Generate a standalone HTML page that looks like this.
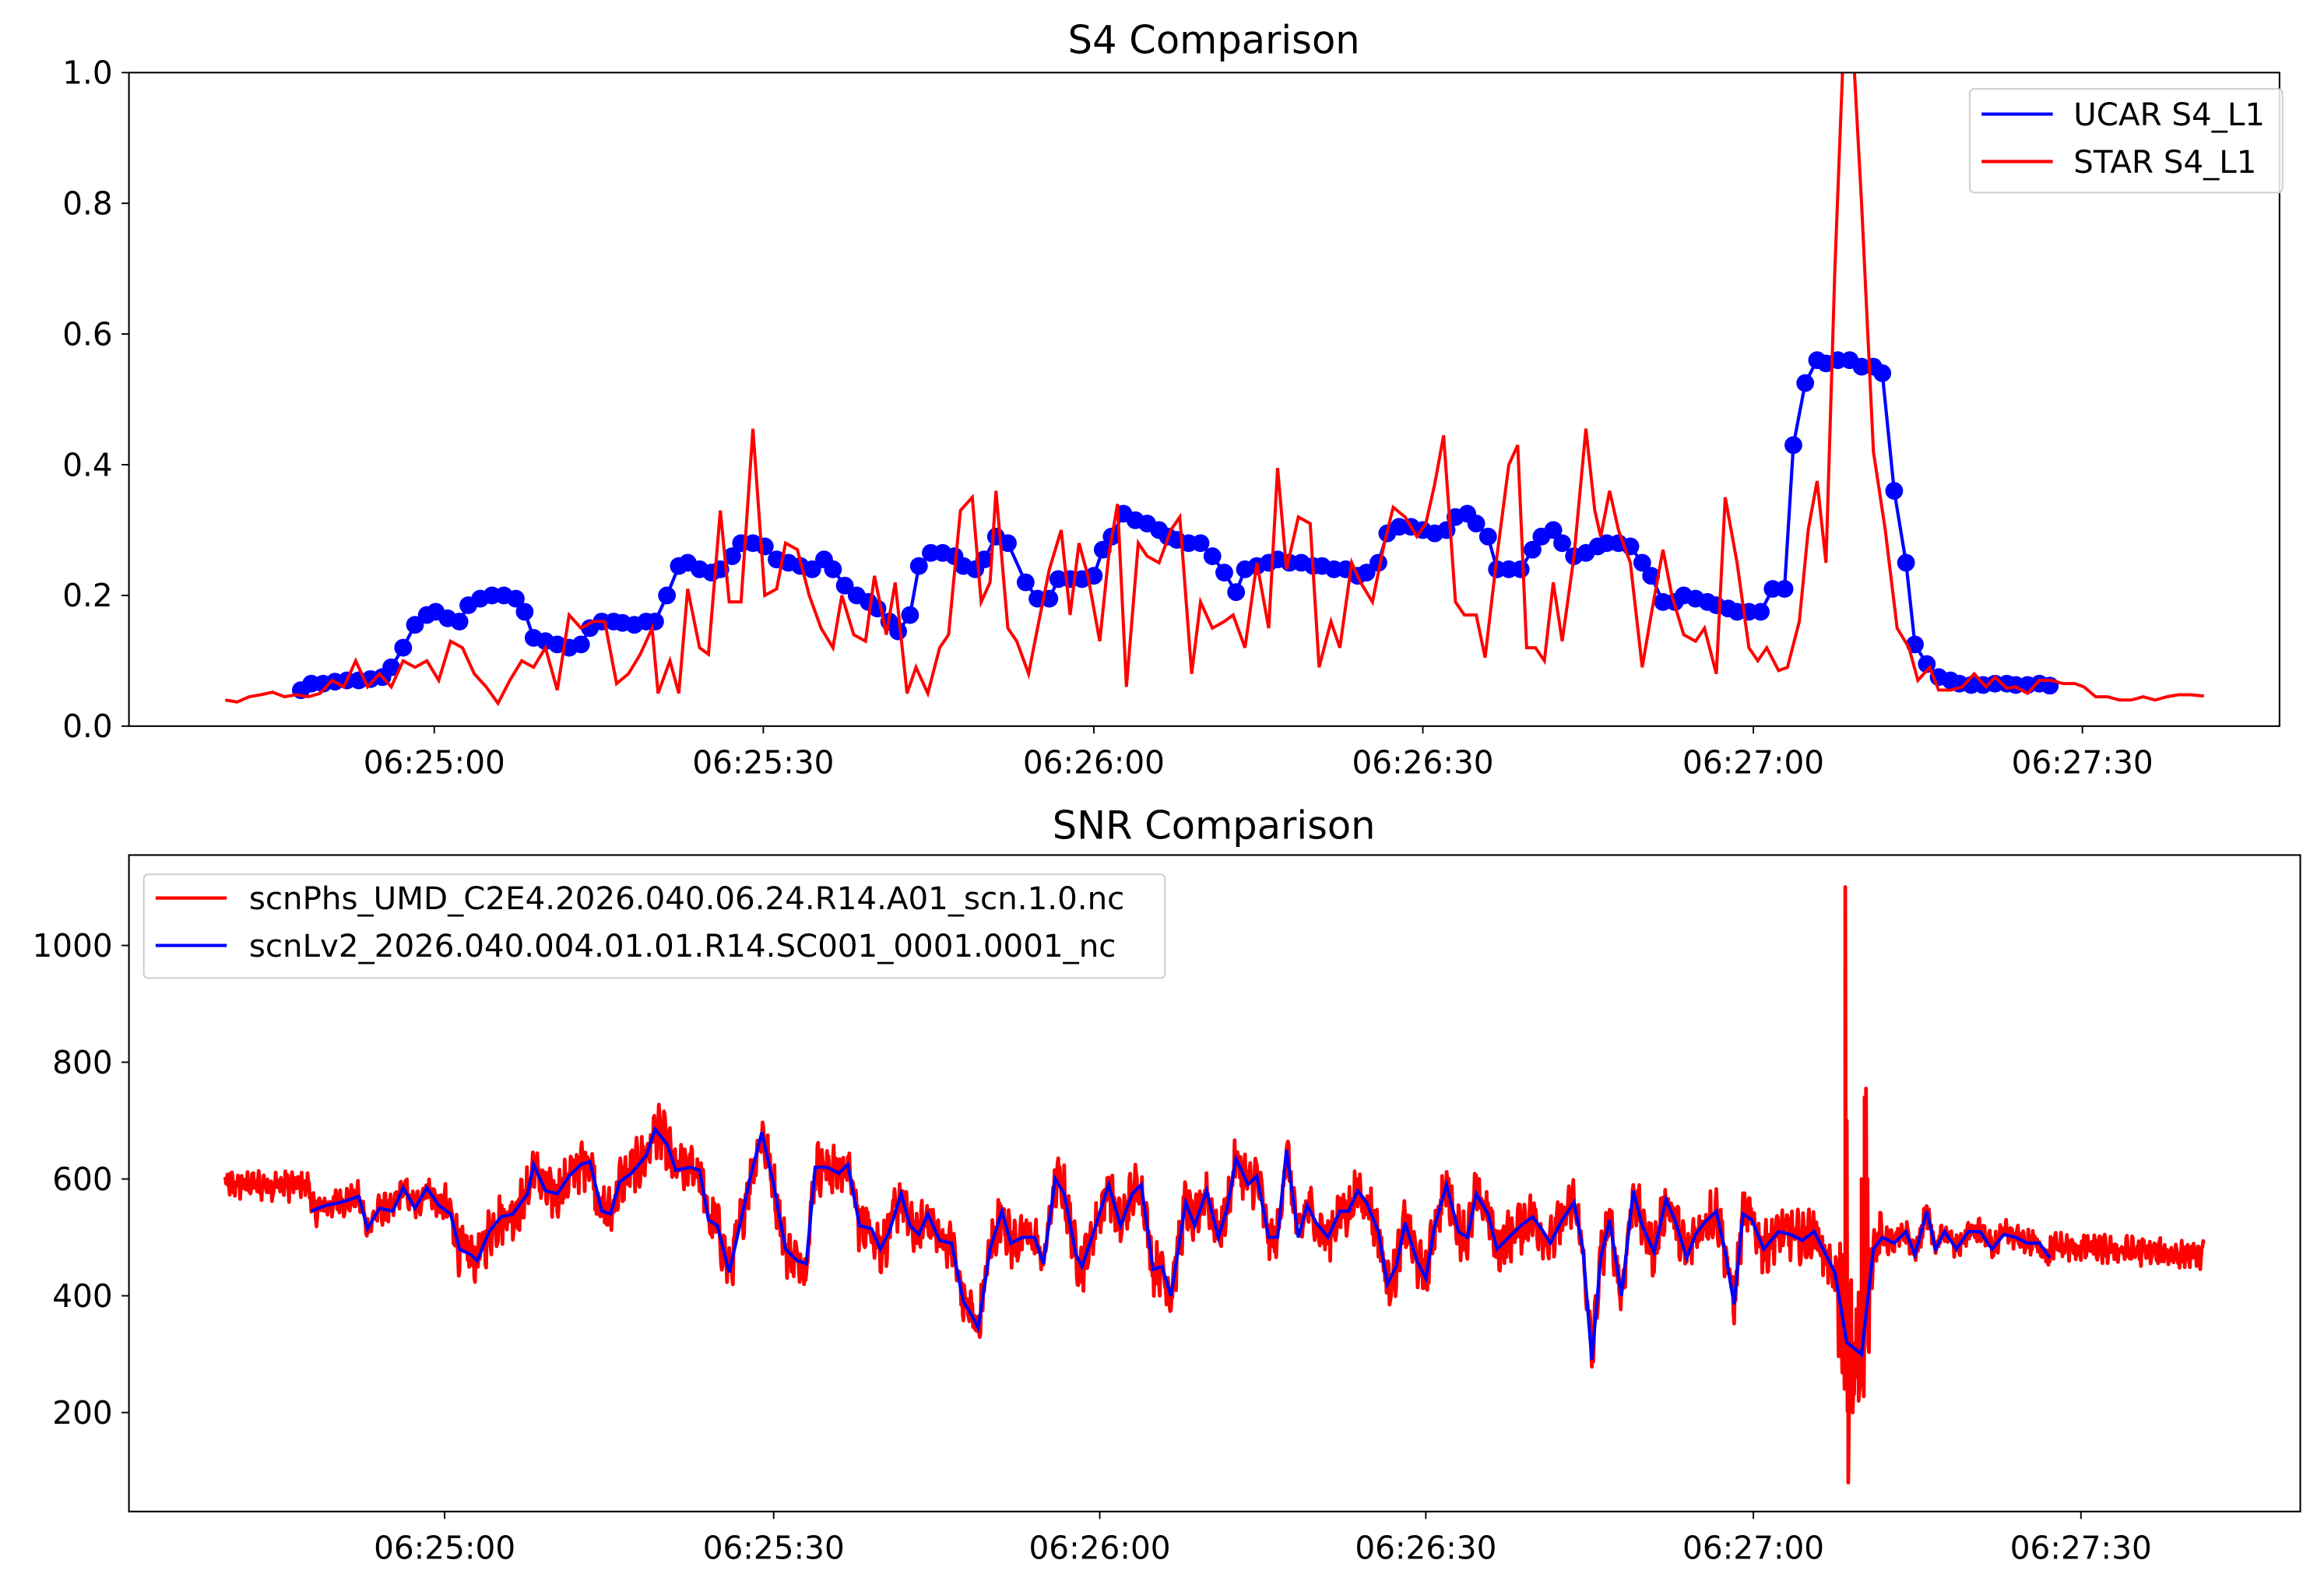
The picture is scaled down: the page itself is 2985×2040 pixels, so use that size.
<!DOCTYPE html>
<html><head><meta charset="utf-8"><style>html,body{margin:0;padding:0;background:#fff}svg{display:block}text{font-family:"DejaVu Sans","Liberation Sans",sans-serif;fill:#000}</style></head>
<body>
<svg id="s" xmlns="http://www.w3.org/2000/svg" width="2985" height="2040" viewBox="0 0 1568 1071.6">
<rect width="1568" height="1072" fill="#fff"/>
<defs>
<clipPath id="c1"><rect x="87" y="49" width="1451" height="441"/></clipPath>
<clipPath id="c2"><rect x="87" y="577" width="1465" height="443"/></clipPath>
</defs>
<text x="819" y="36" font-size="26" text-anchor="middle">S4 Comparison</text>
<text x="819" y="566" font-size="26" text-anchor="middle">SNR Comparison</text>
<g id="gtop" clip-path="url(#c1)"></g>
<g id="gbot" clip-path="url(#c2)"></g>
<rect x="87" y="49" width="1451" height="441" fill="none" stroke="#000" stroke-width="1.1"/>
<rect x="87" y="577" width="1465" height="443" fill="none" stroke="#000" stroke-width="1.1"/>
<g id="ticks" font-size="21.3"></g>
<g>
<rect x="1329" y="60" width="211" height="70" rx="3" fill="#fff" fill-opacity="0.85" stroke="#ccc" stroke-width="1"/>
<line x1="1337" y1="77" x2="1385" y2="77" stroke="#00f" stroke-width="2.2"/>
<line x1="1337" y1="109" x2="1385" y2="109" stroke="#f00" stroke-width="2.2"/>
<text x="1399" y="84.5" font-size="21.2">UCAR S4_L1</text>
<text x="1399" y="116.5" font-size="21.2">STAR S4_L1</text>
<rect x="97" y="590" width="689" height="70" rx="3" fill="#fff" fill-opacity="0.85" stroke="#ccc" stroke-width="1"/>
<line x1="105" y1="606" x2="153" y2="606" stroke="#f00" stroke-width="2.2"/>
<line x1="105" y1="638" x2="153" y2="638" stroke="#00f" stroke-width="2.2"/>
<text x="168" y="613.5" font-size="21.2">scnPhs_UMD_C2E4.2026.040.06.24.R14.A01_scn.1.0.nc</text>
<text x="168" y="645.5" font-size="21.2">scnLv2_2026.040.004.01.01.R14.SC001_0001.0001_nc</text>
</g>
</svg>
<script>
(function(){
var NS="http://www.w3.org/2000/svg";
function el(p,t,a){var e=document.createElementNS(NS,t);for(var k in a)e.setAttribute(k,a[k]);p.appendChild(e);return e;}
function pairs(a){var r=[];for(var i=0;i<a.length;i+=2)r.push([a[i],a[i+1]]);return r;}
var ty=function(v){return 490-v*441;};
var by=function(v){return 1032-v*0.394;};
var red1=pairs([152,.04,160,.037,168,.045,176,.048,184,.052,192,.045,200,.048,208,.045,216,.05,224,.07,232,.06,240,.1,248,.06,256,.08,264,.06,272,.1,280,.09,288,.1,296,.07,304,.13,312,.12,320,.08,328,.06,336,.035,344,.07,352,.1,360,.09,368,.12,376,.055,384,.17,392,.15,400,.16,408,.16,416,.065,424,.08,432,.11,440,.15,444,.05,452,.1,458,.05,464,.21,472,.12,478,.11,486,.33,492,.19,500,.19,508,.455,516,.2,524,.21,530,.28,538,.27,546,.2,554,.15,562,.12,568,.2,576,.14,584,.13,590,.23,598,.14,604,.22,612,.05,618,.09,626,.05,634,.12,640,.14,648,.33,656,.35,662,.19,668,.22,672,.36,680,.15,686,.13,694,.08,700,.15,708,.24,716,.3,722,.17,728,.28,734,.23,742,.13,748,.26,754,.34,760,.06,768,.28,774,.26,782,.25,790,.3,796,.32,804,.08,810,.19,818,.15,826,.16,832,.17,840,.12,848,.25,856,.15,862,.395,868,.24,876,.32,884,.31,890,.09,898,.16,904,.12,912,.25,918,.22,926,.19,934,.28,940,.335,948,.32,956,.29,962,.31,968,.37,974,.445,982,.19,988,.17,996,.17,1002,.105,1010,.26,1018,.4,1024,.43,1030,.12,1036,.12,1042,.1,1048,.22,1054,.13,1062,.26,1070,.455,1076,.33,1080,.29,1086,.36,1092,.3,1100,.25,1108,.09,1114,.17,1122,.27,1128,.2,1136,.14,1144,.13,1150,.15,1158,.08,1164,.35,1172,.25,1180,.12,1186,.1,1192,.12,1200,.085,1206,.09,1214,.16,1220,.3,1226,.375,1232,.25,1238,.7,1244,1.05,1250,1.05,1256,.8,1264,.42,1272,.3,1280,.15,1288,.12,1294,.07,1302,.09,1308,.055,1316,.055,1324,.06,1332,.08,1340,.06,1346,.075,1354,.058,1360,.06,1368,.05,1376,.07,1384,.07,1392,.065,1400,.065,1406,.06,1414,.045,1422,.045,1430,.04,1438,.04,1446,.045,1454,.04,1462,.045,1470,.048,1478,.048,1487,.046]);
var blue1=pairs([203,.055,210,.065,218,.065,226,.068,234,.07,242,.07,250,.072,258,.075,264,.09,272,.12,280,.155,288,.17,294,.175,302,.165,310,.16,316,.185,324,.195,332,.2,340,.2,348,.195,354,.175,360,.135,368,.13,376,.125,384,.12,392,.125,398,.15,406,.16,414,.16,420,.158,428,.155,436,.16,442,.16,450,.2,458,.245,464,.25,472,.24,480,.235,486,.24,494,.26,500,.28,508,.28,516,.275,524,.255,532,.25,540,.245,548,.24,556,.255,562,.24,570,.215,578,.2,586,.19,592,.18,600,.16,606,.145,614,.17,620,.245,628,.265,636,.265,644,.26,650,.245,658,.24,664,.255,672,.29,680,.28,692,.22,700,.195,708,.195,714,.225,722,.225,730,.225,738,.23,744,.27,750,.29,758,.325,766,.315,774,.31,782,.3,788,.29,794,.285,802,.28,810,.28,818,.26,826,.235,834,.205,840,.24,848,.245,856,.25,862,.255,870,.25,878,.25,886,.245,892,.245,900,.24,908,.24,916,.23,922,.235,930,.25,936,.295,944,.305,952,.305,960,.3,968,.295,976,.3,982,.32,990,.325,996,.31,1004,.29,1010,.24,1018,.24,1026,.24,1034,.27,1040,.29,1048,.3,1054,.28,1062,.26,1070,.265,1078,.275,1084,.28,1092,.28,1100,.275,1108,.25,1114,.23,1122,.19,1130,.19,1136,.2,1144,.195,1152,.19,1158,.185,1166,.18,1172,.175,1180,.175,1188,.175,1196,.21,1204,.21,1210,.43,1218,.525,1226,.56,1232,.555,1240,.56,1248,.56,1256,.55,1264,.55,1270,.54,1278,.36,1286,.25,1292,.125,1300,.095,1308,.075,1316,.07,1322,.065,1330,.063,1338,.063,1346,.065,1354,.065,1360,.063,1368,.063,1376,.065,1383,.062]);
var blue2=pairs([210,545,220,555,230,560,242,570,248,515,256,550,265,545,272,585,280,550,288,585,296,555,304,540,310,480,318,470,322,460,330,510,338,535,346,540,356,575,360,625,368,580,376,575,384,605,392,625,398,630,406,545,412,540,418,595,426,610,436,640,442,685,450,660,456,615,466,620,472,615,478,530,484,520,492,440,500,530,506,600,514,680,522,590,530,480,538,460,544,455,550,620,558,620,566,610,572,625,580,520,588,515,594,480,600,510,608,575,614,520,620,505,626,540,634,495,642,490,650,390,656,365,660,345,668,480,676,545,682,490,690,500,698,500,704,455,712,600,718,575,726,470,730,450,738,510,748,590,756,520,764,575,770,590,778,445,784,450,790,400,800,560,806,520,814,580,822,500,828,550,834,635,842,590,848,605,856,500,862,500,868,650,876,500,882,555,888,525,896,500,904,545,910,545,916,580,922,560,930,510,936,420,942,450,948,525,956,460,962,430,968,520,976,590,984,510,990,500,996,575,1004,540,1010,480,1018,500,1026,520,1034,535,1040,515,1046,490,1054,530,1062,560,1068,480,1074,290,1080,465,1086,530,1094,400,1102,580,1108,520,1116,475,1124,565,1130,530,1138,465,1144,505,1150,525,1158,545,1164,475,1170,385,1176,540,1182,530,1190,480,1200,510,1208,505,1216,495,1224,510,1232,470,1238,440,1246,320,1256,300,1264,480,1270,500,1278,490,1286,510,1292,470,1300,545,1306,480,1312,510,1320,480,1328,510,1336,510,1344,480,1352,505,1360,500,1368,490,1376,490,1383,465]);
function pts(a,f){return a.map(function(p){return p[0].toFixed(1)+","+f(p[1]).toFixed(1);}).join(" ");}
var gT=document.getElementById("gtop"),gB=document.getElementById("gbot");
el(gT,"polyline",{points:pts(blue1,ty),fill:"none",stroke:"#00f","stroke-width":2.2});
blue1.forEach(function(p){el(gT,"circle",{cx:p[0],cy:ty(p[1]),r:6,fill:"#00f"});});
el(gT,"polyline",{points:pts(red1,ty),fill:"none",stroke:"#f00","stroke-width":2.1});
function base(x){
 if(x<210){return 590;}
 if(x>1383){return 485-(x-1383)*0.15;}
 for(var i=0;i<blue2.length-1;i++){if(x>=blue2[i][0]&&x<=blue2[i+1][0]){var t=(x-blue2[i][0])/(blue2[i+1][0]-blue2[i][0]);return blue2[i][1]+t*(blue2[i+1][1]-blue2[i][1]);}}
 return 480;}
var seed=12345;function rnd(){seed=(seed*1103515245+12345)%2147483648;return seed/2147483648;}
var rp=[];
for(var x=152;x<=1487;x+=0.5){
 var amp=(x<300?20:(x>1270?18:34));
 var v=base(x)+(rnd()-0.5)*2*amp+Math.sin(x*1.7)*amp*0.5;
 if(x>1240&&x<1262){v=base(x)+(rnd()-0.5)*250;}
 rp.push([x,v]);
}
rp.push([1245,1100],[1246,700],[1247,80],[1248,300],[1250,200],[1252,260],[1254,220],[1256,600],[1258,740],[1259,755],[1260,600],[1262,480]);
rp.sort(function(a,b){return a[0]-b[0];});
el(gB,"polyline",{points:pts(rp,by),fill:"none",stroke:"#f00","stroke-width":2.5,"stroke-linejoin":"round"});
el(gB,"polyline",{points:pts(blue2,by),fill:"none",stroke:"#00f","stroke-width":2.2});
var tk=document.getElementById("ticks");
var yl=["0.0","0.2","0.4","0.6","0.8","1.0"];
for(var i=0;i<6;i++){var y=ty(i*0.2);el(tk,"line",{x1:82,y1:y,x2:87,y2:y,stroke:"#000","stroke-width":1});var t=el(tk,"text",{x:76,y:y+7.5,"text-anchor":"end"});t.textContent=yl[i];}
[200,400,600,800,1000].forEach(function(v){var y=by(v);el(tk,"line",{x1:82,y1:y,x2:87,y2:y,stroke:"#000","stroke-width":1});var t=el(tk,"text",{x:76,y:y+7.5,"text-anchor":"end"});t.textContent=v;});
var xl=["06:25:00","06:25:30","06:26:00","06:26:30","06:27:00","06:27:30"];
var xt=[293,515,738,960,1183,1405],xb=[300,522,742,962,1183,1404];
for(var i=0;i<6;i++){
 el(tk,"line",{x1:xt[i],y1:490,x2:xt[i],y2:495,stroke:"#000","stroke-width":1});
 var t=el(tk,"text",{x:xt[i],y:522,"text-anchor":"middle"});t.textContent=xl[i];
 el(tk,"line",{x1:xb[i],y1:1020,x2:xb[i],y2:1025,stroke:"#000","stroke-width":1});
 t=el(tk,"text",{x:xb[i],y:1052,"text-anchor":"middle"});t.textContent=xl[i];
}
})();
</script>
</body></html>
